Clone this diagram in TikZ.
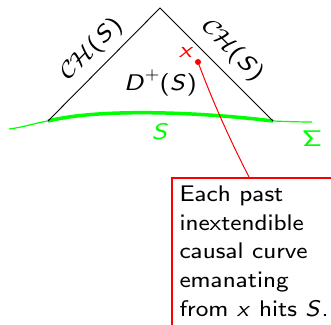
\documentclass[tikz,border=0pt]{standalone}
\usepackage{graphicx}
\font\sfbig=cmss8 at 22.6pt
\font\sfitbig=cmssi8 at 22.6pt
\font\sfsup=cmss8 at 16pt
\font\calbig=cmsy8 at 22.6pt
\newcommand{\sfit}[1]{{\sfitbig #1\/}}
\newcommand{\CH}{{\calbig C\kern-0.5pt H}}
\newcommand{\wide}[1]{\scalebox{1.15}[1]{#1}}
\begin{document}
\begin{tikzpicture}[x=1pt,y=-1pt,
  lbl/.style={font=\fontsize{22.6}{28.8}\selectfont\sfbig, inner sep=0pt},
  edge/.style={draw=black, line width=0.9pt},
  surf/.style={draw=green, line width=1.2pt},
  slice/.style={draw=green, line width=3.5pt},
  ray/.style={draw=red, line width=1pt},
  dotn/.style={circle, fill=red, inner sep=0pt, minimum size=6pt},
  boxn/.style={draw=red, line width=2pt, minimum width=200pt, minimum height=200pt, inner sep=0pt}]
\useasboundingbox (0,0) rectangle (331,324);
\clip (0,0) rectangle (331,324);
\coordinate (L) at (48,121);
\coordinate (T) at (160,8);
\coordinate (R) at (273,121);
\coordinate (SL) at (9,129);
\coordinate (SR) at (312,122);
% surface Sigma
\draw[surf] (SL) .. controls (25,127) and (35,123) .. (L);
\draw[surf] (R) .. controls (285,121.5) and (300,122) .. (SR);
\draw[slice] (L) .. controls (100,108) and (200,112) .. (R);
% Cauchy horizon
\draw[edge] (L) -- (T) -- (R);
% labels
\node[lbl, rotate=45] (chl) at (92,49) {\wide{\CH(\sfit{S})}};
\node[lbl, rotate=-45] (chr) at (232.5,51) {\wide{\CH(\sfit{S})}};
\node[lbl, anchor=base] (dp) at (160.5,90) {\resizebox{73pt}{\height}{\sfit{D}\raisebox{0.42em}{\sfsup+}(\sfit{S})}};
\node[lbl, anchor=base, text=green] (sl) at (160.5,139) {\wide{\sfit{S}}};
\node[lbl, anchor=base, text=green] (sig) at (312,146) {\wide{\char6}};
\node[lbl, anchor=base, text=red] (xl) at (186.5,57) {\wide{\sfit{x}}};
% point and curve
\node[dotn] (pt) at (198,62) {};
\node[boxn, anchor=north west] (box) at (171,177) {};
\coordinate (hit) at ([xshift=78pt]box.north west);
\draw[ray] (pt.center) .. controls (212,100) and (230,140) .. (hit);
\node[lbl, anchor=base west] (txt) at (179.3,316.5)
  {\resizebox{149pt}{\height}{\begin{tabular}[b]{@{}l@{}}Each past\\inextendible\\causal curve\\emanating\\from \sfit{x} hits \sfit{S}.\end{tabular}}};
\end{tikzpicture}
\end{document}
